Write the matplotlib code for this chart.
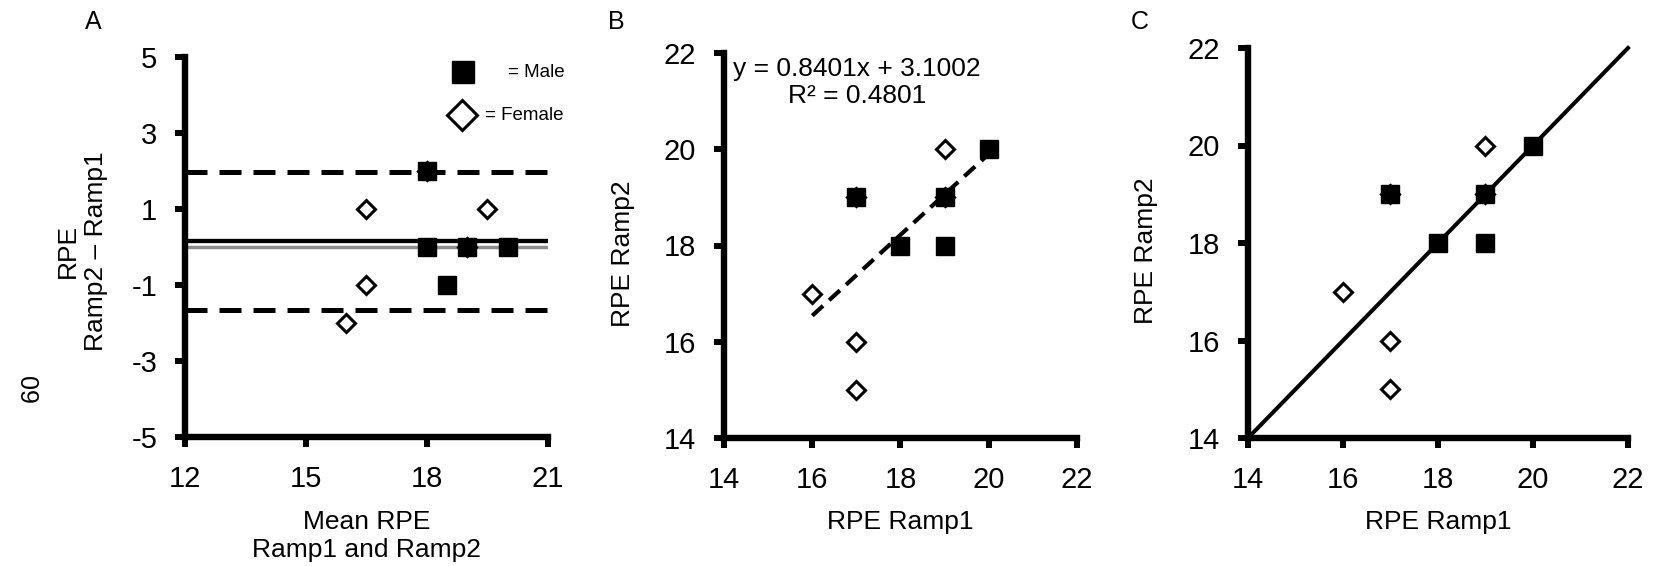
import numpy as np
import matplotlib
matplotlib.use("Agg")
import matplotlib.pyplot as plt

plt.rcParams['font.family'] = ['Liberation Sans', 'DejaVu Sans']

male_ramp1 = [17, 18, 19, 19, 20]
male_ramp2 = [19, 18, 19, 18, 20]
female_ramp1 = [16, 17, 17, 19, 17, 19]
female_ramp2 = [17, 16, 15, 20, 19, 19]

# Bland-Altman lines (panel A)
bias = 0.15
loa_upper = 1.97
loa_lower = -1.67

# regression shown in panel B
slope = 0.8401
intercept = 3.1002
r_squared = 0.4801
fit_x = [16, 20]

W, H = 1658, 566
fig = plt.figure(figsize=(W / 100, H / 100), dpi=100)


def px_axes(left, right, top, bottom):
    return fig.add_axes([left / W, (H - bottom) / H, (right - left) / W, (bottom - top) / H])


def style(ax):
    for s in ('top', 'right'):
        ax.spines[s].set_visible(False)
    for s in ('left', 'bottom'):
        ax.spines[s].set_linewidth(4.6)
    ax.tick_params(direction='out', length=7, width=4.3, labelsize=21, pad=13)
    ax.patch.set_alpha(0)


def draw_points(ax, xm, ym, xf, yf):
    # diamonds first so their tips peek out from under the squares
    ax.plot(xf, yf, 'D', ms=9, mfc='white', mec='black', mew=2.2, ls='none',
            clip_on=False, zorder=4)
    ax.plot(xm, ym, 's', ms=13, mfc='black', mec='black', mew=1, ls='none',
            clip_on=False, zorder=5)


m1 = np.array(male_ramp1, float)
m2 = np.array(male_ramp2, float)
f1 = np.array(female_ramp1, float)
f2 = np.array(female_ramp2, float)

# ---- panel A: Bland-Altman ----
axA = px_axes(185, 548, 57, 437)
style(axA)
axA.set_xlim(12, 21)
axA.set_ylim(-5, 5)
axA.set_xticks([12, 15, 18, 21])
axA.set_yticks([5, 3, 1, -1, -3, -5])
axA.set_yticklabels(['5', '3', '1', '-1', '-3', '-5'])
axA.plot([12, 21], [0, 0], color='#8c8c8c', lw=2.5, zorder=2)
axA.plot([12, 21], [bias, bias], color='black', lw=3.1, zorder=3)
for v in (loa_upper, loa_lower):
    axA.plot([12, 21], [v, v], color='black', lw=3.6, ls=(0, (4.4, 2.4)),
             dash_capstyle='butt', zorder=3)
draw_points(axA, (m1 + m2) / 2, m2 - m1, (f1 + f2) / 2, f2 - f1)

# legend drawn by hand like the original
axA.plot([18.9], [4.6], 's', ms=15.5, mfc='black', mec='black', mew=1, clip_on=False)
axA.plot([18.87], [3.47], 'D', ms=15.5, mfc='white', mec='black', mew=2.2, clip_on=False)
axA.text(20.0, 4.6, '= Male', fontsize=13.5, va='center', ha='left')
axA.text(19.45, 3.47, '= Female', fontsize=13.5, va='center', ha='left')

axA.set_xlabel('Mean RPE\nRamp1 and Ramp2', fontsize=19, linespacing=1.2)
axA.set_ylabel('RPE\nRamp2 \u2013 Ramp1', fontsize=19, linespacing=1.2)
axA.xaxis.label.set_va('center')
axA.yaxis.label.set_va('center')
axA.xaxis.set_label_coords(0.5, -0.26)
axA.yaxis.set_label_coords(-0.284, 0.49)

# ---- panel B: regression ----
axB = px_axes(724, 1077, 53, 438)
style(axB)
axB.set_xlim(14, 22)
axB.set_ylim(14, 22)
axB.set_xticks([14, 16, 18, 20, 22])
axB.set_yticks([14, 16, 18, 20, 22])
fx = np.array(fit_x, float)
axB.plot(fx, slope * fx + intercept, color='black', lw=3, ls=(0, (3.5, 2)),
         dash_capstyle='butt', zorder=3)
draw_points(axB, m1, m2, f1, f2)
axB.text(17.02, 21.67, 'y = %.4fx + %.4f' % (slope, intercept), fontsize=19,
         ha='center', va='center')
axB.text(17.02, 21.1, 'R\u00b2 = %.4f' % r_squared, fontsize=19,
         ha='center', va='center')
axB.set_xlabel('RPE Ramp1', fontsize=19)
axB.set_ylabel('RPE Ramp2', fontsize=19)
axB.xaxis.label.set_va('center')
axB.yaxis.label.set_va('center')
axB.xaxis.set_label_coords(0.5, -0.218)
axB.yaxis.set_label_coords(-0.286, 0.48)

# ---- panel C: line of identity ----
axC = px_axes(1248, 1628, 48, 438)
style(axC)
axC.set_xlim(14, 22)
axC.set_ylim(14, 22)
axC.set_xticks([14, 16, 18, 20, 22])
axC.set_yticks([14, 16, 18, 20, 22])
axC.plot([14, 22], [14, 22], color='black', lw=2.9, zorder=3, clip_on=False)
draw_points(axC, m1, m2, f1, f2)
axC.set_xlabel('RPE Ramp1', fontsize=19)
axC.set_ylabel('RPE Ramp2', fontsize=19)
axC.xaxis.label.set_va('center')
axC.yaxis.label.set_va('center')
axC.xaxis.set_label_coords(0.5, -0.215)
axC.yaxis.set_label_coords(-0.268, 0.48)

# panel letters and page number
fig.text(93 / W, 1 - 22 / H, 'A', fontsize=18, ha='center', va='center')
fig.text(616 / W, 1 - 22 / H, 'B', fontsize=18, ha='center', va='center')
fig.text(1140 / W, 1 - 22 / H, 'C', fontsize=18, ha='center', va='center')
fig.text(26 / W, 1 - 390 / H, '09', fontsize=18, rotation=270, ha='center', va='center')

fig.savefig('out.png', dpi=100)
